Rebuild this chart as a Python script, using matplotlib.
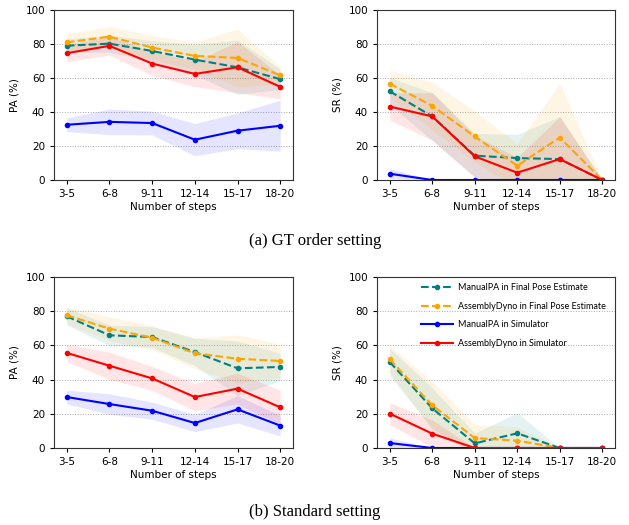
import matplotlib
matplotlib.use("Agg")
import matplotlib.pyplot as plt
import numpy as np

steps = ["3-5", "6-8", "9-11", "12-14", "15-17", "18-20"]
series_names = ["ManualPA in Final Pose Estimate", "AssemblyDyno in Final Pose Estimate",
                "ManualPA in Simulator", "AssemblyDyno in Simulator"]

# (a) GT order setting - PA
gt_pa_manual_final = [79.0, 80.2, 75.9, 70.8, 66.3, 59.3]
gt_pa_manual_final_std = [4, 5, 6, 9, 16, 6]
gt_pa_dyno_final = [81.0, 84.3, 77.9, 73.0, 71.8, 61.6]
gt_pa_dyno_final_std = [5, 6, 7, 8, 17, 5]
gt_pa_manual_sim = [32.5, 34.2, 33.5, 23.7, 29.0, 31.9]
gt_pa_manual_sim_std = [4, 7.5, 7, 9.5, 10.5, 15]
gt_pa_dyno_sim = [74.6, 78.9, 68.5, 62.4, 66.3, 54.8]
gt_pa_dyno_sim_std = [5, 5.5, 7, 7.5, 15, 7]

# (a) GT order setting - SR
gt_sr_manual_final = [52.2, 37.4, 14.3, 12.9, 12.3, 0.0]
gt_sr_manual_final_std = [8, 14, 13, 14, 25, 0]
gt_sr_dyno_final = [56.7, 43.6, 25.6, 8.4, 25.0, 0.0]
gt_sr_dyno_final_std = [8, 14, 15, 13, 32, 0]
gt_sr_manual_sim = [3.7, 0.0, 0.0, 0.0, 0.0, 0.0]
gt_sr_manual_sim_std = [3, 0, 0, 0, 0, 0]
gt_sr_dyno_sim = [43.2, 37.4, 13.9, 4.3, 12.3, 0.0]
gt_sr_dyno_sim_std = [8, 14, 12, 9, 25, 0]

# (b) Standard setting - PA
st_pa_manual_final = [77.0, 65.9, 64.9, 56.1, 46.6, 47.4]
st_pa_manual_final_std = [5, 6, 6, 8, 16, 8]
st_pa_dyno_final = [77.6, 69.8, 64.5, 55.4, 52.2, 50.9]
st_pa_dyno_final_std = [5, 7, 7, 9, 14, 10]
st_pa_manual_sim = [29.8, 25.7, 21.8, 14.6, 22.6, 13.1]
st_pa_manual_sim_std = [4, 6, 5, 5, 8, 6]
st_pa_dyno_sim = [55.6, 48.1, 40.7, 29.8, 34.7, 23.8]
st_pa_dyno_sim_std = [5, 8, 7, 8, 9, 10]

# (b) Standard setting - SR
st_sr_manual_final = [50.3, 23.2, 2.7, 8.6, 0.0, 0.0]
st_sr_manual_final_std = [8, 12, 6, 12, 0, 0]
st_sr_dyno_final = [51.9, 25.0, 5.8, 4.3, 0.0, 0.0]
st_sr_dyno_final_std = [8, 14, 8, 8, 0, 0]
st_sr_manual_sim = [2.9, 0.0, 0.0, 0.0, 0.0, 0.0]
st_sr_manual_sim_std = [3, 0, 0, 0, 0, 0]
st_sr_dyno_sim = [20.1, 8.4, 0.0, 0.0, 0.0, 0.0]
st_sr_dyno_sim_std = [6.5, 8, 0, 0, 0, 0]

colors = ["#008080", "orange", "blue", "red"]
styles = ["--", "--", "-", "-"]

fig = plt.figure(figsize=(6.29, 5.25), dpi=100)
W, H = 629, 525

def add_ax(l, r, t, b):
    return fig.add_axes([l / W, 1 - b / H, (r - l) / W, (b - t) / H])

panels = [
    (add_ax(54, 293, 10, 180), "PA (%)",
     [(gt_pa_manual_final, gt_pa_manual_final_std), (gt_pa_dyno_final, gt_pa_dyno_final_std),
      (gt_pa_manual_sim, gt_pa_manual_sim_std), (gt_pa_dyno_sim, gt_pa_dyno_sim_std)]),
    (add_ax(377, 615, 10, 180), "SR (%)",
     [(gt_sr_manual_final, gt_sr_manual_final_std), (gt_sr_dyno_final, gt_sr_dyno_final_std),
      (gt_sr_manual_sim, gt_sr_manual_sim_std), (gt_sr_dyno_sim, gt_sr_dyno_sim_std)]),
    (add_ax(54, 293, 277, 448), "PA (%)",
     [(st_pa_manual_final, st_pa_manual_final_std), (st_pa_dyno_final, st_pa_dyno_final_std),
      (st_pa_manual_sim, st_pa_manual_sim_std), (st_pa_dyno_sim, st_pa_dyno_sim_std)]),
    (add_ax(377, 615, 277, 448), "SR (%)",
     [(st_sr_manual_final, st_sr_manual_final_std), (st_sr_dyno_final, st_sr_dyno_final_std),
      (st_sr_manual_sim, st_sr_manual_sim_std), (st_sr_dyno_sim, st_sr_dyno_sim_std)]),
]

x = np.arange(len(steps))
for idx, (ax, ylab, data) in enumerate(panels):
    for (m, s), c, ls, name in zip(data, colors, styles, series_names):
        m = np.array(m); s = np.array(s)
        ax.fill_between(x, m - s, m + s, color=c, alpha=0.1, linewidth=0)
        ax.plot(x, m, ls, color=c, marker="o", markersize=3, linewidth=1.5, label=name)
    ax.set_xlim(-0.3, 5.3)
    ax.set_ylim(0, 100)
    ax.set_xticks(x)
    ax.set_xticklabels(steps)
    ax.set_yticks([0, 20, 40, 60, 80, 100])
    ax.yaxis.grid(True, linestyle=":", color="#aaaaaa", linewidth=0.7)
    ax.set_axisbelow(True)
    ax.tick_params(labelsize=7.5, length=3)
    ax.set_ylabel(ylab, fontsize=7.5)
    ax.set_xlabel("Number of steps", fontsize=7.5, labelpad=2)
    for sp in ax.spines.values():
        sp.set_color("#333333")
    if idx == 3:
        ax.legend(loc="upper left", frameon=False, bbox_to_anchor=(0.16, 1.0),
                  prop={"family": "Lato", "size": 6.5}, handlelength=3.5,
                  handletextpad=0.6, labelspacing=1.05, borderaxespad=0.3)

fig.text(315 / W, 1 - 241 / H, "(a) GT order setting", ha="center", va="center",
         fontsize=12, family="Liberation Serif")
fig.text(315 / W, 1 - 512 / H, "(b) Standard setting", ha="center", va="center",
         fontsize=12, family="Liberation Serif")

fig.savefig("out.png", dpi=100)
